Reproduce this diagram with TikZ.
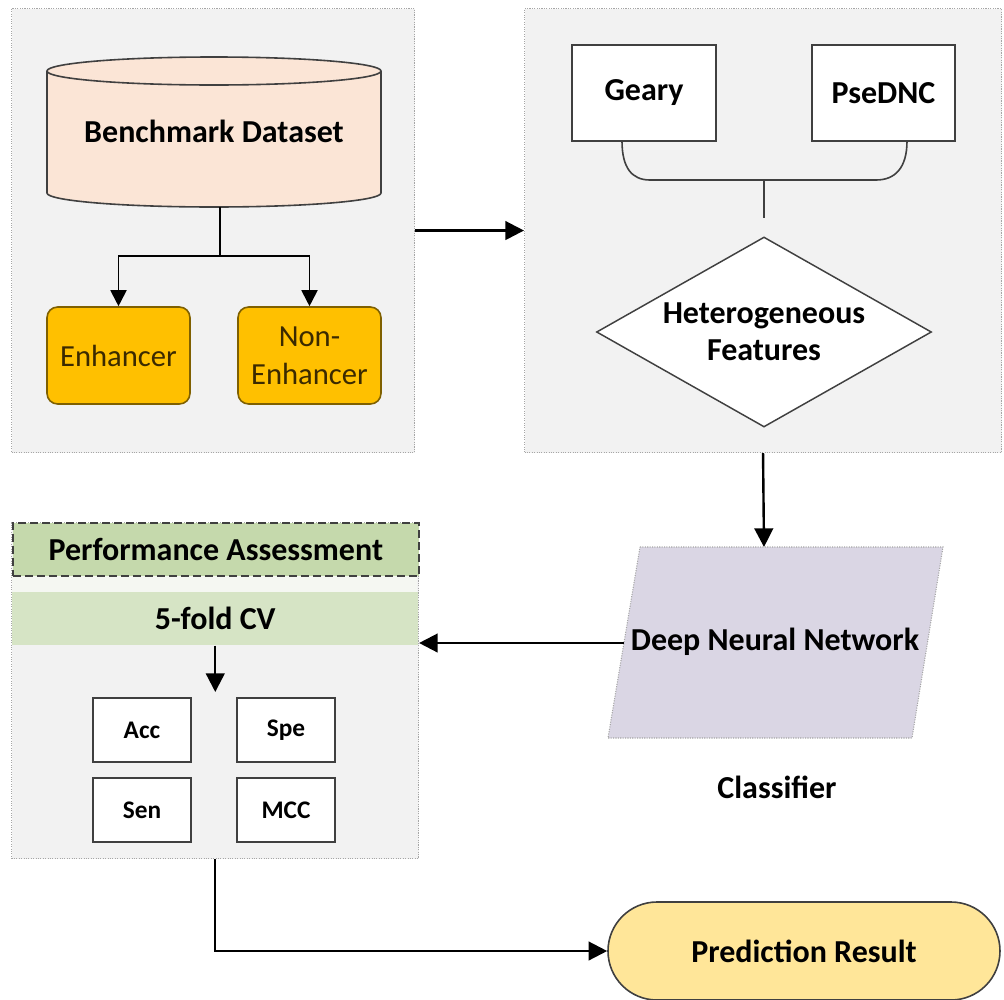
\documentclass[tikz,border=0pt]{standalone}
\usepackage{fontspec}
\setmainfont{Carlito}
\usetikzlibrary{arrows.meta,shapes.geometric,shapes.misc}
\definecolor{panelfill}{HTML}{F2F2F2}
\definecolor{panelline}{HTML}{A6A6A6}
\definecolor{cylfill}{HTML}{FBE5D6}
\definecolor{enhfill}{HTML}{FFC000}
\definecolor{enhline}{HTML}{7F6000}
\definecolor{enhtext}{HTML}{3B2A00}
\definecolor{hdrfill}{HTML}{C5D9AC}
\definecolor{cvfill}{HTML}{D6E4C5}
\definecolor{stripfill}{HTML}{F5F7F2}
\definecolor{dnnfill}{HTML}{DAD6E4}
\definecolor{predfill}{HTML}{FFE699}
\definecolor{darkline}{HTML}{404040}
\def\u{0.75pt}
\tikzset{
  panel/.style={draw=panelline, fill=panelfill, densely dotted, line width=0.8pt, anchor=north west, inner sep=0pt},
  whitebox/.style={draw=darkline, fill=white, line width=1.4pt, inner sep=0pt, font=\bfseries\fontsize{24}{28}\selectfont},
  smallbox/.style={draw=darkline, fill=white, line width=1.2pt, inner sep=0pt, minimum width=73.5pt, minimum height=48pt, font=\bfseries\fontsize{19}{22}\selectfont},
  classbox/.style={draw=enhline, fill=enhfill, rounded corners=8pt, line width=1.2pt, inner sep=0pt, minimum width=107.25pt, minimum height=72.75pt, align=center, text=enhtext, font=\fontsize{23}{28.5}\selectfont},
  conn/.style={line width=1.8pt, -{Triangle[length=14pt,width=14pt]}},
  branch/.style={line width=1.4pt, -{Triangle[length=12pt,width=12pt]}},
  plain/.style={line width=1.2pt, draw=darkline},
  btext/.style={font=\bfseries\fontsize{24}{28}\selectfont, align=center, inner sep=0pt},
}
\begin{document}
\begin{tikzpicture}[x=0.75pt,y=-0.75pt]
\useasboundingbox (0,0) rectangle (1004,1000);

% ---------- panel 1 ----------
\node[panel, minimum width=403*\u, minimum height=444*\u] (box1) at (11,8) {};
\fill[cylfill] (47,71) -- (47,193) arc[start angle=180,end angle=360,x radius=125.25pt,y radius=10.5pt] -- (381,71) -- cycle;
\fill[cylfill] (214,71) ellipse[x radius=125.25pt,y radius=10.5pt];
\draw[plain] (47,71) -- (47,193) arc[start angle=180,end angle=360,x radius=125.25pt,y radius=10.5pt] -- (381,71);
\draw[plain] (214,71) ellipse[x radius=125.25pt,y radius=10.5pt];
\node[btext] (bench) at (214,131) {Benchmark Dataset};
\coordinate (benchBot) at (220,207);
\coordinate (split) at (220,256);
\node[classbox] (enh) at (118.5,355.5) {Enhancer};
\node[classbox] (non) at (309.5,355.5) {Non-\\Enhancer};
\draw[plain, draw=black, line width=1.4pt] (benchBot) -- (split);
\draw[branch] (split) -| (enh.north);
\draw[branch] (split) -| (non.north);

% ---------- panel 2 ----------
\node[panel, minimum width=477*\u, minimum height=444*\u] (box2) at (524,8) {};
\node[whitebox, minimum width=108pt, minimum height=72pt] (geary) at (644,93) {Geary};
\node[whitebox, minimum width=107.25pt, minimum height=72pt] (pse) at (883.5,93) {PseDNC};
\draw[plain] (622,141) .. controls (622,168) and (632,180) .. (650,180) -- (876,180) .. controls (895,180) and (907,168) .. (907,141);
\draw[plain] (764,180) -- (764,218);
\node[diamond, draw=darkline, fill=white, line width=1.1pt, inner sep=0pt, minimum width=251.25pt, minimum height=142.5pt] (diam) at (764,332) {};
\node[btext, font=\bfseries\fontsize{24}{27.75}\selectfont] (het) at (764,332) {Heterogeneous\\Features};

\draw[conn] (box1.east) -- (box2.west);

% ---------- classifier ----------
\coordinate (dnnTop) at (764,547);
\coordinate (dnnLeft) at (624,643);
\fill[dnnfill] (640,547) -- (943,547) -- (912,738) -- (608,738) -- cycle;
\draw[panelline, densely dotted, line width=0.8pt] (640,547) -- (943,547) -- (912,738) -- (608,738) -- cycle;
\node[btext] (dnn) at (775,642) {Deep Neural Network};
\node[btext] (cls) at (777,787) {Classifier};
\draw[conn] (box2.south) -- (dnnTop);

% ---------- panel 3 ----------
\node[panel, minimum width=407*\u, minimum height=336*\u] (box3) at (11,522) {};
\fill[stripfill] (12,575) rectangle (417,592);
\node[anchor=north west, fill=cvfill, inner sep=0pt, minimum width=406*\u, minimum height=53*\u] (cv) at (12,592) {};
\node[btext] (cvtext) at (cv.center) {5-fold CV};
\node[anchor=north west, draw=darkline, fill=hdrfill, dash pattern=on 6pt off 3pt, line width=1.3pt, inner sep=0pt, minimum width=406*\u, minimum height=53*\u] (hdr) at (12,522) {};
\node[btext] (hdrtext) at (hdr.center) {Performance Assessment};
\coordinate (cvArrow) at (cv.south |- 0,692);
\draw[conn] (cv.south) -- (cvArrow);
\node[smallbox] (acc) at (142,730) {Acc};
\node[smallbox] (spe) at (286,730) {Spe};
\node[smallbox] (sen) at (142,810) {Sen};
\node[smallbox] (mcc) at (286,810) {MCC};

\draw[conn] (dnnLeft) -- (dnnLeft -| box3.east);

% ---------- prediction ----------
\node[rounded rectangle, draw=darkline, fill=predfill, line width=1.2pt, minimum width=294pt, minimum height=73.5pt, inner sep=0pt, btext] (pred) at (804,951) {Prediction Result};
\draw[conn] (box3.south) |- (pred.west);
\end{tikzpicture}
\end{document}
